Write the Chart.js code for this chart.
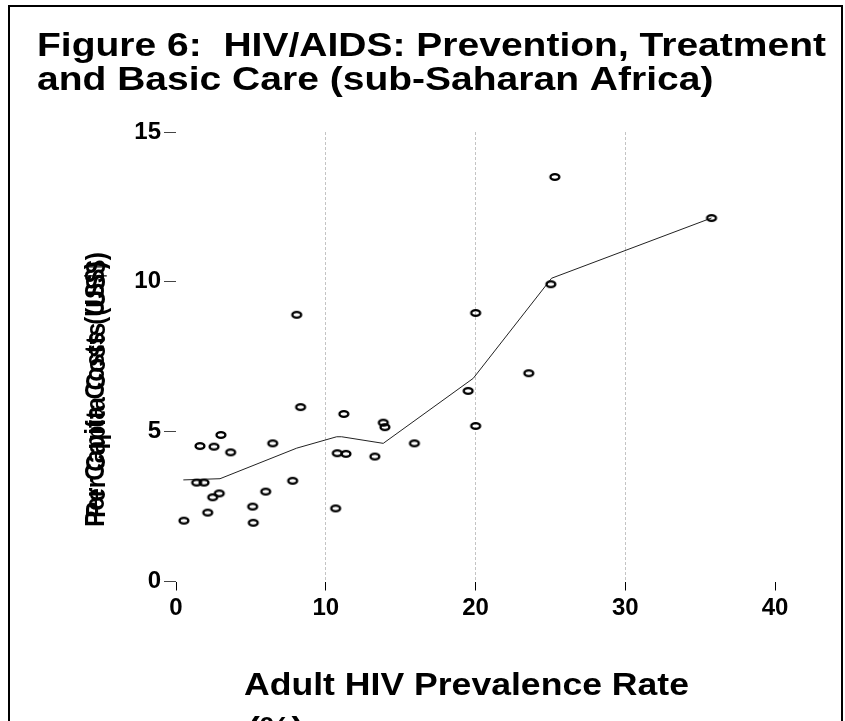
<!DOCTYPE html>
<html>
<head>
<meta charset="utf-8">
<script src="https://cdn.jsdelivr.net/npm/chart.js@4/dist/chart.umd.min.js"></script>
<style>
  html, body { margin: 0; padding: 0; background: #fff; }
  #wrap { width: 845px; height: 721px; position: relative; }
</style>
</head>
<body>
<div id="wrap"><canvas id="c" width="845" height="721"></canvas></div>
<script>
// Adult HIV prevalence (%) and per capita cost (US$) by country
const prevalence = [0.53, 2.12, 1.38, 1.87, 1.60, 2.54, 3.00, 3.65, 2.45, 2.89,
                    5.12, 5.16, 5.99, 6.46, 7.79, 8.06, 8.32, 10.66, 10.77, 11.35,
                    11.21, 13.28, 13.84, 13.95, 15.92, 19.51, 20.01, 20.01, 23.56, 25.03,
                    25.30, 35.76];
const costs = [2.03, 2.30, 3.30, 3.30, 4.52, 4.50, 4.89, 4.31, 2.81, 2.94,
               2.50, 1.96, 3.00, 4.61, 3.36, 8.90, 5.82, 2.44, 4.28, 4.26,
               5.59, 4.17, 5.30, 5.15, 4.61, 6.36, 8.96, 5.19, 6.95, 9.92,
               13.50, 12.13];

// Smoothed trend
const trendX = [0.49, 2.94, 8.06, 10.73, 11.06, 13.84, 19.85, 25.08, 35.76];
const trendY = [3.39, 3.43, 4.45, 4.83, 4.83, 4.61, 6.78, 10.12, 12.13];

const xTicks = [0, 10, 20, 30, 40];
const yTicks = [0, 5, 10, 15];

const titleLines = ['Figure 6:  HIV/AIDS: Prevention, Treatment',
                    'and Basic Care (sub-Saharan Africa)'];
const yTitle = 'Per Capita Costs (US$)';
const xTitleLines = ['Adult HIV Prevalence Rate', '(%)'];

const FONT = '"Liberation Sans", Arial, sans-serif';

// hollow oval marker
const marker = document.createElement('canvas');
marker.width = 14; marker.height = 10;
(function () {
  const m = marker.getContext('2d');
  m.lineWidth = 2.4;
  m.strokeStyle = '#000';
  m.beginPath();
  m.ellipse(7, 5, 4.4, 2.9, 0, 0, Math.PI * 2);
  m.stroke();
})();

// draws text squeezed or widened along its run so it spans `width`
function fitText(ctx, text, x, y, width) {
  const natural = ctx.measureText(text).width;
  const k = width / natural;
  ctx.save();
  ctx.translate(x, y);
  ctx.scale(k, 1);
  ctx.fillText(text, 0, 0);
  ctx.restore();
  return k;
}

const decor = {
  id: 'decor',
  beforeDraw(chart) {
    const ctx = chart.ctx;
    ctx.save();
    ctx.fillStyle = '#fff';
    ctx.fillRect(0, 0, chart.width, chart.height);
    ctx.restore();
  },
  afterDraw(chart) {
    const ctx = chart.ctx;
    ctx.save();
    // frame
    ctx.strokeStyle = '#000';
    ctx.lineWidth = 2;
    ctx.beginPath();
    ctx.moveTo(9, 721); ctx.lineTo(9, 6); ctx.lineTo(842, 6); ctx.lineTo(842, 721);
    ctx.stroke();

    ctx.fillStyle = '#000';
    ctx.textBaseline = 'alphabetic';
    ctx.textAlign = 'left';
    // heading
    ctx.font = 'bold 33px ' + FONT;
    const k = fitText(ctx, titleLines[0], 37, 56, 789);
    fitText(ctx, titleLines[1], 37, 90, ctx.measureText(titleLines[1]).width * k);

    // x-axis title
    ctx.font = 'bold 32px ' + FONT;
    const kx = fitText(ctx, xTitleLines[0], 244, 695, 445);
    fitText(ctx, xTitleLines[1], 248, 739, ctx.measureText(xTitleLines[1]).width * kx);

    // y-axis title (printed twice, slightly offset)
    ctx.font = 'bold 27px ' + FONT;
    ctx.textBaseline = 'middle';
    [[97, 394], [98, 385]].forEach(([x, y]) => {
      ctx.save();
      ctx.translate(x, y);
      ctx.rotate(-Math.PI / 2);
      const w = 266;
      fitText(ctx, yTitle, -w / 2, 0, w);
      ctx.restore();
    });
    ctx.restore();
  }
};

new Chart(document.getElementById('c'), {
  type: 'scatter',
  data: {
    datasets: [
      {
        type: 'line',
        data: trendX.map((x, i) => ({ x, y: trendY[i] })),
        borderColor: '#222',
        borderWidth: 1,
        pointRadius: 0,
        tension: 0,
        fill: false,
        order: 2
      },
      {
        data: prevalence.map((x, i) => ({ x, y: costs[i] })),
        pointStyle: marker,
        pointRadius: 5,
        showLine: false,
        order: 1
      }
    ]
  },
  options: {
    responsive: false,
    animation: false,
    events: [],
    layout: { padding: { top: 132, right: 70, bottom: 94.5, left: 0 } },
    plugins: { legend: { display: false }, tooltip: { enabled: false } },
    scales: {
      x: {
        type: 'linear', min: 0, max: 40,
        afterBuildTicks: s => { s.ticks = xTicks.map(v => ({ value: v })); },
        afterFit: s => { s.height = 45; },
        ticks: { color: '#000', font: { family: FONT, weight: 'bold', size: 24 }, padding: 3, maxRotation: 0 },
        grid: {
          color: c => (c.tick && [10, 20, 30].includes(c.tick.value)) ? '#c4c4c4' : 'rgba(0,0,0,0)',
          lineWidth: 1,
          tickLength: 9,
          tickColor: '#000',
          tickWidth: 1
        },
        border: { display: false, dash: [3, 2] }
      },
      y: {
        type: 'linear', min: 0, max: 15,
        afterBuildTicks: s => { s.ticks = yTicks.map(v => ({ value: v })); },
        afterFit: s => { s.width = 176; },
        ticks: { color: '#000', font: { family: FONT, weight: 'bold', size: 24 }, padding: 3 },
        grid: { drawOnChartArea: false, tickLength: 12, tickColor: '#444', tickWidth: 1 },
        border: { display: false }
      }
    }
  },
  plugins: [decor]
});
</script>
</body>
</html>
